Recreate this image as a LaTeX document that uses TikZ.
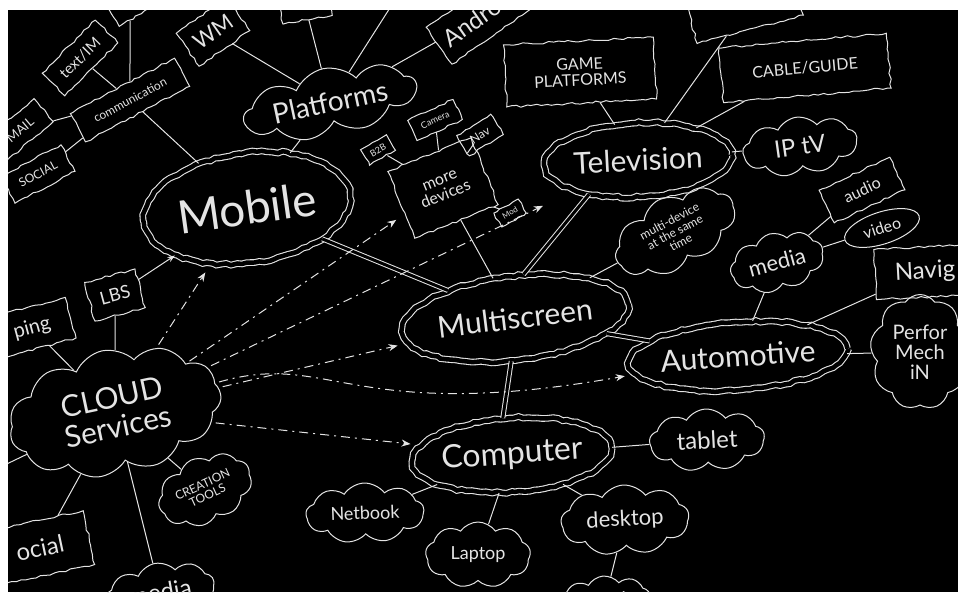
\documentclass[tikz,border=0pt]{standalone}
\usepackage{fontspec}
\setmainfont{Lato}
\usepackage{tikz}
\usetikzlibrary{arrows.meta,positioning,shapes.geometric,shapes.symbols,decorations.pathmorphing}
\definecolor{chalk}{RGB}{228,228,228}
\newcommand{\txtsize}[1]{\fontsize{#1}{#1}\selectfont}

\begin{document}
\begin{tikzpicture}[x=1pt,y=-1pt,>=Stealth,
  hand/.style={decorate,decoration={random steps,segment length=5pt,amplitude=1.1pt}},
  topic/.style={ellipse,draw=chalk,line width=1.1pt,double=black,double distance=4.5pt,hand,text=chalk,inner sep=0pt},
  leaf/.style={rectangle,draw=chalk,line width=1pt,hand,text=chalk,align=center,inner sep=2pt},
  puff/.style={cloud,cloud puffs=9,cloud puff arc=110,cloud ignores aspect,draw=chalk,line width=1pt,text=chalk,align=center,inner sep=1pt},
  link/.style={chalk,line width=1pt},
  dlink/.style={draw=chalk,line width=1pt,double=black,double distance=3pt},
  cue/.style={chalk,line width=1pt,dash pattern=on 9pt off 5pt on 2pt off 5pt,-{Stealth[length=9pt,width=7pt]},shorten >=10pt,shorten <=4pt}]
        \pgfmathsetseed{21}
        \useasboundingbox (0,0) rectangle (958,592);
        \fill[white] (0,0) rectangle (958,592);
        \fill[black] (8,10) rectangle (958,592);
        \begin{scope}
        \clip (8,10) rectangle (958,592);
        % main topics
        \node[topic,minimum width=208,minimum height=110,rotate=8,font=\txtsize{46}] (mobile) at (247,208) {Mobile};
        \node[topic,minimum width=228,minimum height=84,rotate=7,font=\txtsize{30}] (multi) at (515,318) {Multiscreen};
        \node[topic,minimum width=188,minimum height=74,rotate=3,font=\txtsize{30}] (tv) at (638,160) {Television};
        \node[topic,minimum width=198,minimum height=68,rotate=4,font=\txtsize{30}] (automotive) at (738,356) {Automotive};
        \node[topic,minimum width=200,minimum height=74,rotate=4,font=\txtsize{32}] (comp) at (512,455) {Computer};
        \node[puff,cloud puffs=11,minimum width=215,minimum height=125,rotate=12,font=\txtsize{30}] (cloud) at (115,412) {CLOUD\\Services};
        % mobile side
        \node[puff,minimum width=175,minimum height=68,rotate=12,font=\txtsize{28}] (platforms) at (330,102) {Platforms};
        \node[leaf,minimum width=62,minimum height=40,rotate=35,font=\txtsize{22}] (wm) at (213,32) {WM};
        \node[leaf,minimum width=75,minimum height=32,rotate=45,font=\txtsize{15}] (textim) at (80,58) {text/IM};
        \node[leaf,minimum width=118,minimum height=32,rotate=28,font=\txtsize{12}] (commu) at (130,100) {communication};
        \node[leaf,minimum width=62,minimum height=30,rotate=40,font=\txtsize{13}] (mail) at (20,130) {MAIL};
        \node[leaf,minimum width=68,minimum height=30,rotate=28,font=\txtsize{12}] (social) at (38,174) {SOCIAL};
        \node[leaf,minimum width=45,minimum height=35,rotate=30] (topc) at (130,0) {};
        \node[leaf,minimum width=50,minimum height=30,rotate=10] (topj) at (305,5) {};
        \coordinate (topq) at (395,0);
        \node[leaf,minimum width=100,minimum height=45,rotate=35,font=\txtsize{24}] (android) at (480,17) {Android};
        % devices
        \node[leaf,minimum width=90,minimum height=72,rotate=22,font=\txtsize{16}] (moredev) at (443,188) {more\\devices};
        \node[leaf,minimum width=30,minimum height=18,rotate=30,font=\txtsize{9}] (b2b) at (378,150) {B2B};
        \node[leaf,minimum width=50,minimum height=22,rotate=25,font=\txtsize{9}] (camera) at (435,120) {Camera};
        \node[leaf,minimum width=40,minimum height=24,rotate=32,font=\txtsize{12}] (nav) at (480,135) {Nav};
        \node[leaf,minimum width=28,minimum height=16,rotate=30,font=\txtsize{8}] (mod) at (510,213) {Mod};
        % television side
        \node[leaf,minimum width=110,minimum height=40,rotate=15] (toptv) at (745,10) {};
        \node[leaf,minimum width=150,minimum height=62,rotate=3,font=\txtsize{16}] (game) at (580,72) {GAME\\PLATFORMS};
        \node[leaf,minimum width=168,minimum height=55,rotate=5,font=\txtsize{16}] (cable) at (805,68) {CABLE/GUIDE};
        \node[puff,minimum width=115,minimum height=58,rotate=8,font=\txtsize{24}] (iptv) at (800,146) {IP tV};
        \node[puff,minimum width=130,minimum height=72,rotate=28,font=\txtsize{12}] (multidev) at (675,232) {multi-device\\at the same\\time};
        % automotive side
        \node[puff,minimum width=95,minimum height=58,rotate=15,font=\txtsize{22}] (media) at (777,262) {media};
        \node[leaf,minimum width=78,minimum height=36,rotate=25,font=\txtsize{16}] (audio) at (862,190) {audio};
        \node[ellipse,draw=chalk,line width=1pt,text=chalk,minimum width=78,minimum height=32,rotate=18,font=\txtsize{16}] (video) at (882,228) {video};
        \node[leaf,minimum width=100,minimum height=50,rotate=3,font=\txtsize{24}] (navig) at (925,272) {Navig};
        \node[puff,minimum width=100,minimum height=115,font=\txtsize{20}] (perf) at (920,352) {Perfor\\Mech\\iN};
        % computer side
        \node[puff,minimum width=118,minimum height=60,rotate=2,font=\txtsize{18}] (netbook) at (365,513) {Netbook};
        \node[puff,minimum width=105,minimum height=66,font=\txtsize{18}] (laptop) at (478,555) {Laptop};
        \node[puff,minimum width=128,minimum height=70,rotate=3,font=\txtsize{22}] (desktop) at (625,520) {desktop};
        \node[puff,minimum width=115,minimum height=62,rotate=3,font=\txtsize{24}] (tablet) at (707,440) {tablet};
        \node[puff,minimum width=90,minimum height=48,rotate=5,font=\txtsize{18}] (fixed) at (605,600) {Fixed};
        % cloud side
        \node[leaf,minimum width=52,minimum height=40,rotate=15,font=\txtsize{18}] (lbs) at (115,295) {LBS};
        \node[leaf,minimum width=80,minimum height=42,rotate=15,font=\txtsize{20}] (ping) at (32,328) {ping};
        \node[puff,minimum width=98,minimum height=66,rotate=25,font=\txtsize{12}] (creation) at (205,490) {CREATION\\TOOLS};
        \node[leaf,minimum width=100,minimum height=55,rotate=12,font=\txtsize{24}] (ocial) at (40,548) {ocial};
        \node[puff,minimum width=110,minimum height=58,rotate=10,font=\txtsize{24}] (mediab) at (160,592) {media};
        \coordinate (offl) at (-10,472);
        % connectors
        \draw[dlink] (mobile) -- (multi);
        \draw[dlink] (tv.212) -- (multi.72);
        \draw[dlink] (automotive) -- (multi);
        \draw[dlink] (multi.258) -- (comp.100);
        \draw[link] (mobile) -- (platforms);
        \draw[link] (mobile) -- (commu);
        \draw[link] (commu) -- (textim);
        \draw[link] (commu) -- (mail);
        \draw[link] (commu) -- (social);
        \draw[link] (commu) -- (topc);
        \draw[link] (platforms) -- (wm);
        \draw[link] (platforms) -- (topj);
        \draw[link] (platforms) -- (topq);
        \draw[link] (platforms) -- (android);
        \draw[link] (moredev) -- (multi);
        \draw[link] (moredev) -- (b2b);
        \draw[link] (moredev) -- (camera);
        \draw[link] (moredev) -- (nav);
        \draw[link] (moredev) -- (mod);
        \draw[link] (tv) -- (game);
        \draw[link] (tv) -- (cable);
        \draw[link] (tv) -- (toptv);
        \draw[link] (tv) -- (iptv);
        \draw[link] (multi) -- (multidev);
        \draw[link] (automotive) -- (media);
        \draw[link] (media) -- (audio);
        \draw[link] (media) -- (video);
        \draw[link] (automotive) -- (navig);
        \draw[link] (automotive) -- (perf);
        \draw[link] (comp) -- (tablet);
        \draw[link] (comp) -- (netbook);
        \draw[link] (comp) -- (laptop);
        \draw[link] (comp) -- (desktop);
        \draw[link] (desktop) -- (fixed);
        \draw[link] (cloud) -- (lbs);
        \draw[link] (cloud) -- (ping);
        \draw[link] (cloud) -- (ocial);
        \draw[link] (cloud) -- (mediab);
        \draw[link] (cloud) -- (creation);
        \draw[link] (cloud) -- (offl);
        \draw[link,->] (lbs) -- (mobile);
        % cloud arrows
        \draw[cue] (cloud) -- (mobile);
        \draw[cue] (cloud) -- (moredev);
        \draw[cue,shorten >=35pt] (cloud) -- (tv);
        \draw[cue] (cloud) -- (multi);
        \draw[cue] (cloud) .. controls (330,350) and (350,425) .. (automotive);
        \draw[cue] (cloud) -- (comp);
        \end{scope}
      \end{tikzpicture}
\end{document}
